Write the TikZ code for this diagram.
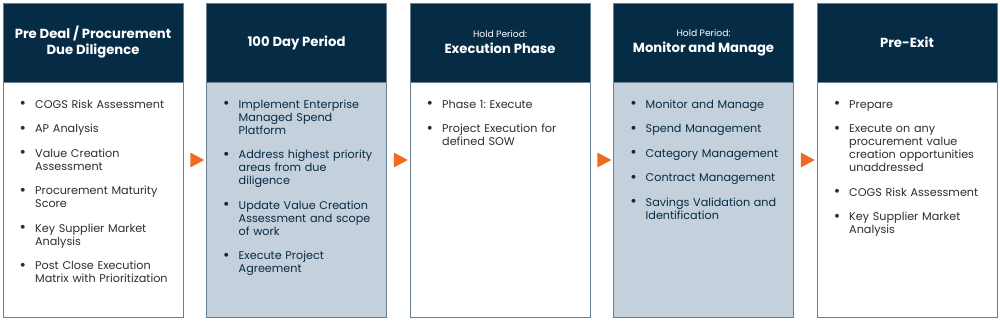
\documentclass[tikz,border=0pt]{standalone}
\usepackage{fontspec}
\setmainfont{Poppins}
\usepackage{enumitem}
\usetikzlibrary{positioning, calc, shapes.geometric}

\definecolor{navy}{HTML}{062B45}
\definecolor{slate}{HTML}{C4D0DB}
\definecolor{edge}{HTML}{6A7F90}
\definecolor{flame}{HTML}{F26A21}
\definecolor{ink}{HTML}{2E2E2E}

\newcommand{\steplist}[1]{%
  \begin{itemize}[leftmargin=16pt, labelsep=9pt, itemsep=11.5pt, parsep=0pt,
    topsep=0pt, partopsep=0pt, label=\raisebox{-0.4pt}{\scalebox{1.4}{\textbullet}}]#1\end{itemize}}
\newcommand{\holdtag}{{\fontsize{9.2}{13}\selectfont\mdseries Hold Period:}\\}

\begin{document}
\frenchspacing
\begin{tikzpicture}[
    x=1pt, y=1pt,
    head/.style={draw=edge, fill=navy, text=white, minimum width=180pt, minimum height=79pt,
      inner sep=0pt, outer sep=0pt, align=center, font=\fontsize{13.2}{16}\selectfont\bfseries},
    body/.style={draw=edge, line width=1pt, minimum width=180pt, minimum height=235pt,
      inner sep=0pt, outer sep=0pt},
    list/.style={anchor=north west, inner sep=0pt, text width=162pt, align=left,
      font=\fontsize{11.2}{13}\selectfont\frenchspacing},
    tip/.style={isosceles triangle, isosceles triangle stretches, fill=flame,
      minimum width=15pt, minimum height=14pt, inner sep=0pt}
]
\useasboundingbox (0,0) rectangle (1000,-321);

% Headers
\node[head, anchor=north west] (h1) at (3,-3) {Pre Deal / Procurement\\Due Diligence};
\node[head, right=23.5pt of h1] (h2) {100 Day Period};
\node[head, right=23.5pt of h2] (h3) {\holdtag Execution Phase};
\node[head, right=23.5pt of h3] (h4) {\holdtag Monitor and Manage};
\node[head, right=23.5pt of h4] (h5) {Pre-Exit};

% Bodies
\node[body, fill=white, below=0pt of h1] (b1) {};
\node[body, fill=slate, below=0pt of h2] (b2) {};
\node[body, fill=white, below=0pt of h3] (b3) {};
\node[body, fill=slate, below=0pt of h4] (b4) {};
\node[body, fill=white, below=0pt of h5] (b5) {};

% Lists
\node[list, text=ink] (l1) at ($(b1.north west)+(16,-13)$) {\steplist{
  \item COGS Risk Assessment
  \item AP Analysis
  \item Value Creation\\Assessment
  \item Procurement Maturity\\Score
  \item Key Supplier Market\\Analysis
  \item Post Close Execution\\Matrix with Prioritization}};
\node[list, text=navy] (l2) at ($(b2.north west)+(16,-13)$) {\steplist{
  \item Implement Enterprise\\Managed Spend\\Platform
  \item Address highest priority\\areas from due\\diligence
  \item Update Value Creation\\Assessment and scope\\of work
  \item Execute Project\\Agreement}};
\node[list, text=ink] (l3) at ($(b3.north west)+(16,-13)$) {\steplist{
  \item Phase 1: Execute
  \item Project Execution for\\defined SOW}};
\node[list, text=navy] (l4) at ($(b4.north west)+(16,-13)$) {\steplist{
  \item Monitor and Manage
  \item Spend Management
  \item Category Management
  \item Contract Management
  \item Savings Validation and\\Identification}};
\node[list, text=ink] (l5) at ($(b5.north west)+(16,-13)$) {\steplist{
  \item Prepare
  \item Execute on any\\procurement value\\creation opportunities\\unaddressed
  \item COGS Risk Assessment
  \item Key Supplier Market\\Analysis}};

% Arrow markers between phases
\node[tip] (a1) at ($(h1.north east)!0.5!(b2.south west)$) {};
\node[tip] (a2) at ($(h2.north east)!0.5!(b3.south west)$) {};
\node[tip] (a3) at ($(h3.north east)!0.5!(b4.south west)$) {};
\node[tip] (a4) at ($(h4.north east)!0.5!(b5.south west)$) {};

\end{tikzpicture}
\end{document}
